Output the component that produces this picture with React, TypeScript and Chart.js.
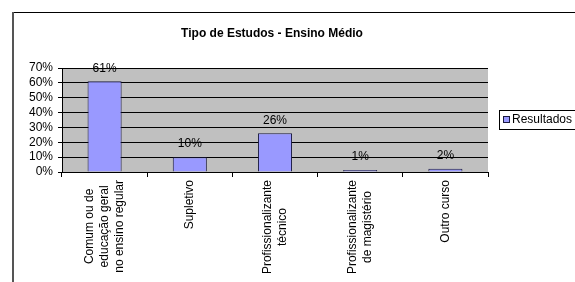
import React, { useEffect, useRef } from "react";
import { Chart, registerables } from "chart.js";

Chart.register(...registerables);

const chartTitle = "Tipo de Estudos - Ensino Médio";
const seriesName = "Resultados";
const categories: string[][] = [
  ["Comum ou de", "educação geral", "no ensino regular"],
  ["Supletivo"],
  ["Profissionalizante", "técnico"],
  ["Profissionalizante", "de magistério"],
  ["Outro curso"],
];
const values: number[] = [0.61, 0.1, 0.26, 0.013, 0.022];
const valueLabels: string[] = ["61%", "10%", "26%", "1%", "2%"];
const yTickMax = 0.7;
const yTickStep = 0.1;

const FONT = '"Liberation Sans", Arial, sans-serif';
const BAR_FILL = "#9999FF";
const BAR_BORDER = "#1a1a40";
const PLOT_BG = "#C0C0C0";

const decorPlugin = {
  id: "decor",
  beforeDraw(chart: any) {
    const { ctx, chartArea } = chart;
    ctx.save();
    ctx.fillStyle = "#ffffff";
    ctx.fillRect(0, 0, chart.width, chart.height);
    ctx.fillStyle = PLOT_BG;
    ctx.fillRect(chartArea.left, chartArea.top, chartArea.right - chartArea.left, chartArea.bottom - chartArea.top);
    ctx.restore();
  },
  afterDraw(chart: any) {
    const { ctx, chartArea } = chart;
    const xScale = chart.scales.x;
    const meta = chart.getDatasetMeta(0);
    ctx.save();
    // outer frame
    ctx.strokeStyle = "#000";
    ctx.lineWidth = 1;
    ctx.beginPath();
    ctx.moveTo(13, 12.5);
    ctx.lineTo(chart.width, 12.5);
    ctx.stroke();
    ctx.strokeStyle = "#555";
    ctx.lineWidth = 2;
    ctx.beginPath();
    ctx.moveTo(13, 12);
    ctx.lineTo(13, chart.height);
    ctx.stroke();

    // title
    ctx.fillStyle = "#000";
    ctx.font = `bold 12px ${FONT}`;
    ctx.textAlign = "center";
    ctx.textBaseline = "middle";
    ctx.fillText(chartTitle, 272, 33.5);

    // data labels
    ctx.font = `12px ${FONT}`;
    meta.data.forEach((bar: any, i: number) => {
      ctx.fillText(valueLabels[i], bar.x, bar.y - 13);
    });

    // category labels (rotated, lines centered)
    const lh = 15;
    categories.forEach((lines, i) => {
      const x = xScale.getPixelForValue(i);
      const maxW = Math.max(...lines.map((l) => ctx.measureText(l).width));
      const yc = chartArea.bottom + 8 + maxW / 2;
      ctx.save();
      ctx.translate(x, yc);
      ctx.rotate(-Math.PI / 2);
      lines.forEach((l, j) => {
        ctx.fillText(l, 0, (j - (lines.length - 1) / 2) * lh);
      });
      ctx.restore();
    });

    // legend
    ctx.strokeStyle = "#000";
    ctx.lineWidth = 1;
    ctx.strokeRect(499.5, 110.5, 90, 19);
    ctx.fillStyle = BAR_FILL;
    ctx.fillRect(503.5, 116.5, 6, 6);
    ctx.strokeStyle = BAR_BORDER;
    ctx.strokeRect(503.5, 116.5, 6, 6);
    ctx.fillStyle = "#000";
    ctx.textAlign = "left";
    ctx.fillText(seriesName, 512, 120);
    ctx.restore();
  },
};

export default function App() {
  const ref = useRef<HTMLCanvasElement | null>(null);
  useEffect(() => {
    if (!ref.current) return;
    Chart.defaults.font.family = FONT;
    Chart.defaults.font.size = 12;
    Chart.defaults.color = "#000";
    const chart = new Chart(ref.current, {
      type: "bar",
      data: {
        labels: categories.map((c) => c.join(" ")),
        datasets: [
          {
            label: seriesName,
            data: values,
            backgroundColor: BAR_FILL,
            borderColor: BAR_BORDER,
            borderWidth: 1,
            categoryPercentage: 1,
            barPercentage: 0.4,
          },
        ],
      },
      options: {
        responsive: false,
        animation: false,
        devicePixelRatio: 1,
        layout: { padding: { top: 68, right: 87, left: 0, bottom: 0 } },
        plugins: {
          legend: { display: false },
          title: { display: false },
          tooltip: { enabled: false },
        },
        scales: {
          x: {
            grid: {
              display: true,
              drawOnChartArea: false,
              drawTicks: true,
              tickLength: 5,
              color: "#000",
              offset: true,
            },
            border: { display: true, color: "#000" },
            ticks: { display: false },
            afterFit: (s: any) => {
              s.height = 110;
            },
          },
          y: {
            min: 0,
            max: yTickMax,
            ticks: {
              stepSize: yTickStep,
              autoSkip: false,
              padding: 5,
              color: "#000",
              font: { size: 12, family: FONT, lineHeight: 1 },
              callback: (v: any) => Math.round(Number(v) * 100) + "%",
            },
            grid: { color: "#000", tickLength: 4, drawTicks: true },
            border: { display: true, color: "#000" },
            afterFit: (s: any) => {
              s.width = 62;
            },
          },
        },
      },
      plugins: [decorPlugin],
    });
    return () => chart.destroy();
  }, []);
  return (
    <div style={{ position: "absolute", left: 0, top: 0, width: 575, height: 282, background: "#fff" }}>
      <canvas ref={ref} width={575} height={282} style={{ display: "block" }} />
    </div>
  );
}
